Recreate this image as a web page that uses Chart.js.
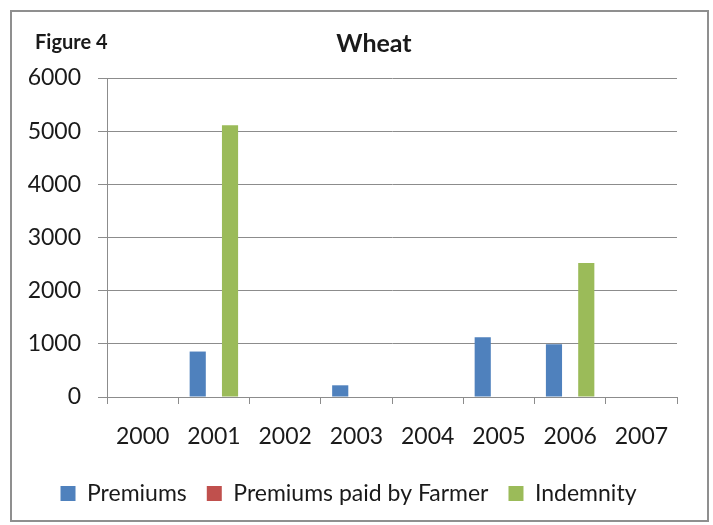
<!DOCTYPE html>
<html lang="en">
<head>
  <meta charset="UTF-8">
  <title>Wheat</title>
  <script src="https://cdn.jsdelivr.net/npm/chart.js"></script>
  <style>
    body {
      margin: 0;
      background: #fff;
    }
    #wrap {
      position: relative;
      width: 713px;
      height: 525px;
      font-family: Lato, sans-serif;
      color: #1a1a1a;
    }
    #frame {
      position: absolute;
      left: 10px;
      top: 10px;
      width: 695px;
      height: 508px;
      border: 2px solid #8f8f8f;
      pointer-events: none;
    }
    #fig {
      position: absolute;
      left: 35px;
      top: 29px;
      font-weight: bold;
      font-size: 20px;
    }
    #title {
      position: absolute;
      left: 274px;
      width: 200px;
      top: 27px;
      text-align: center;
      font-weight: bold;
      font-size: 25px;
    }
  </style>
</head>
<body>
  <div id="wrap">
    <canvas id="wheatChart" width="713" height="525"></canvas>
    <div id="frame"></div>
    <div id="fig">Figure 4</div>
    <div id="title">Wheat</div>
  </div>
  <script>
    var years = ['2000', '2001', '2002', '2003', '2004', '2005', '2006', '2007'];
    var premiums = [0, 855, 0, 220, 0, 1125, 990, 0];
    var premiumsFarmer = [0, 0, 0, 0, 0, 0, 0, 0];
    var indemnity = [0, 5110, 0, 0, 0, 0, 2520, 0];

    var txt = '#1a1a1a';
    var gridColor = '#8c8c8c';
    var tickFont = { family: 'Lato, sans-serif', size: 23 };

    var ctx = document.getElementById('wheatChart').getContext('2d');
    var myChart = new Chart(ctx, {
      type: 'bar',
      data: {
        labels: years,
        datasets: [
          { label: 'Premiums', data: premiums, backgroundColor: '#4f81bd' },
          { label: 'Premiums paid by Farmer', data: premiumsFarmer, backgroundColor: '#c0504d' },
          { label: 'Indemnity', data: indemnity, backgroundColor: '#9bbb59' }
        ]
      },
      options: {
        responsive: false,
        animation: false,
        layout: { padding: { left: 20, right: 36, top: 78, bottom: 10 } },
        datasets: {
          bar: { categoryPercentage: 0.68, barPercentage: 1.0 }
        },
        plugins: {
          legend: {
            position: 'bottom',
            labels: {
              color: txt,
              font: { family: 'Lato, sans-serif', size: 23 },
              boxWidth: 15,
              boxHeight: 15,
              padding: 20
            }
          },
          tooltip: { enabled: false }
        },
        scales: {
          x: {
            afterFit: function (scale) { scale.height = 65; },
            grid: {
              drawOnChartArea: false,
              drawTicks: true,
              tickLength: 7,
              color: gridColor
            },
            border: { color: gridColor },
            ticks: { color: txt, font: tickFont, padding: 19 }
          },
          y: {
            min: 0,
            max: 6000,
            afterFit: function (scale) { scale.width = 87; },
            grid: {
              color: gridColor,
              drawTicks: true,
              tickLength: 9
            },
            border: { color: gridColor },
            ticks: {
              stepSize: 1000,
              color: txt,
              font: tickFont,
              padding: 17,
              callback: function (value) { return String(value); }
            }
          }
        }
      }
    });
  </script>
</body>
</html>
